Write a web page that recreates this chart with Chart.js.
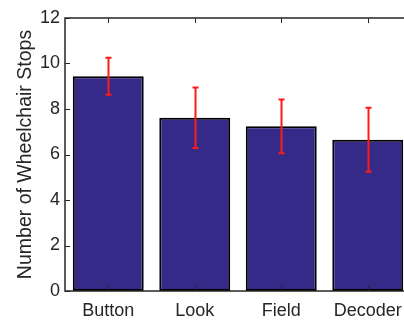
<!DOCTYPE html>
<html>
<head>
<meta charset="utf-8">
<script src="https://cdn.jsdelivr.net/npm/chart.js@4/dist/chart.umd.min.js"></script>
<style>
  html, body { margin: 0; padding: 0; background: #fff; overflow: hidden; }
  #wrap { width: 404px; height: 320px; overflow: hidden; }
</style>
</head>
<body>
<div id="wrap"><canvas id="c" width="420" height="320"></canvas></div>
<script>
// Wheelchair stops per control method (mean with error range)
const categories = ['Button', 'Look', 'Field', 'Decoder'];
const meanStops = [9.44, 7.62, 7.24, 6.65];
const errorStops = [0.81, 1.33, 1.18, 1.41];
const yTicks = [0, 2, 4, 6, 8, 10, 12];

const textColor = '#262626';
const fontFamily = '"Liberation Sans", Arial, Helvetica, sans-serif';

// Box frame, inward tick marks and error bars drawn from the chart scales
const decorations = {
  id: 'decorations',
  afterDatasetsDraw(chart) {
    const { ctx, chartArea: a, scales: { x, y } } = chart;
    ctx.save();
    // error bars
    ctx.strokeStyle = '#ff1a1a';
    ctx.lineWidth = 2;
    meanStops.forEach((m, i) => {
      const cx = Math.round(x.getPixelForValue(i)) + 0.5;
      const yTop = y.getPixelForValue(m + errorStops[i]);
      const yBot = y.getPixelForValue(m - errorStops[i]);
      ctx.beginPath();
      ctx.moveTo(cx, yTop); ctx.lineTo(cx, yBot);
      ctx.moveTo(cx - 3, yTop); ctx.lineTo(cx + 3, yTop);
      ctx.moveTo(cx - 3, yBot); ctx.lineTo(cx + 3, yBot);
      ctx.stroke();
    });
    // frame
    ctx.strokeStyle = textColor;
    ctx.lineWidth = 1.5;
    ctx.strokeRect(a.left, a.top, a.right - a.left, a.bottom - a.top);
    // inward ticks
    ctx.lineWidth = 1;
    const tl = 5;
    ctx.beginPath();
    yTicks.forEach(v => {
      const py = Math.round(y.getPixelForValue(v)) + 0.5;
      ctx.moveTo(a.left, py); ctx.lineTo(a.left + tl, py);
      ctx.moveTo(a.right, py); ctx.lineTo(a.right - tl, py);
    });
    categories.forEach((c, i) => {
      const px = Math.round(x.getPixelForValue(i)) + 0.5;
      ctx.moveTo(px, a.top); ctx.lineTo(px, a.top + tl);
      ctx.moveTo(px, a.bottom); ctx.lineTo(px, a.bottom - tl);
    });
    ctx.stroke();
    ctx.restore();
  }
};

new Chart(document.getElementById('c'), {
  type: 'bar',
  data: {
    labels: categories,
    datasets: [{
      data: meanStops,
      backgroundColor: '#352a87',
      borderColor: '#000000',
      borderWidth: 2,
      borderSkipped: false,
      barPercentage: 0.82,
      categoryPercentage: 1.0
    }]
  },
  options: {
    responsive: false,
    animation: false,
    devicePixelRatio: 1,
    layout: { padding: { top: 18, right: 9, left: 0, bottom: 0 } },
    plugins: { legend: { display: false }, tooltip: { enabled: false } },
    scales: {
      x: {
        grid: { display: false, drawTicks: false },
        border: { display: false },
        ticks: { color: textColor, font: { family: fontFamily, size: 18 }, padding: 9 },
        afterFit(s) { s.height = 29; }
      },
      y: {
        min: 0, max: 12,
        afterBuildTicks(s) { s.ticks = yTicks.map(v => ({ value: v })); },
        grid: { display: false, drawTicks: false },
        border: { display: false },
        ticks: { color: textColor, font: { family: fontFamily, size: 18 }, padding: 5 },
        title: {
          display: true,
          text: 'Number of Wheelchair Stops',
          color: textColor,
          font: { family: fontFamily, size: 19.5 },
          padding: { top: 14, bottom: 0 }
        },
        afterFit(s) { s.width = 65; }
      }
    }
  },
  plugins: [decorations]
});
</script>
</body>
</html>
